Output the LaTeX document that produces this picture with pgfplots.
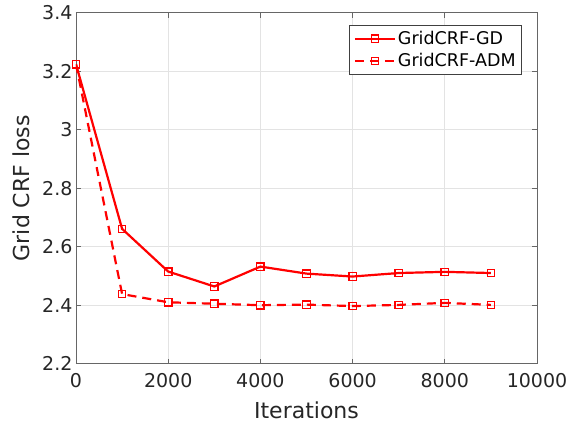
\documentclass[border=0pt]{standalone}
\usepackage{pgfplots}
\pgfplotsset{compat=1.18}
\usepackage{fontspec}
\setmainfont{DejaVu Sans}
\begin{document}
\begin{tikzpicture}
\begin{axis}[
    scale only axis,
    width=461pt,
    height=351pt,
    xmin=0, xmax=10000,
    ymin=2.2, ymax=3.4,
    xtick={0,2000,...,10000},
    ytick={2.2,2.4,...,3.4},
    scaled x ticks=false,
    xticklabel style={/pgf/number format/1000 sep={}, yshift=-6pt},
    yticklabel style={/pgf/number format/fixed},
    /pgf/number format/assume math mode=true,
    tick align=inside,
    major tick length=5pt,
    grid=major,
    grid style={gray!22, line width=0.7pt},
    axis line style={black!60, line width=0.8pt},
    tick style={black!60, line width=0.8pt},
    tick label style={font=\fontsize{19}{22}\selectfont, text=black!85},
    label style={font=\fontsize{22}{26}\selectfont, text=black!85},
    xlabel={Iterations},
    ylabel={Grid CRF loss},
    xlabel style={at={(axis description cs:0.5,0)}, anchor=base, yshift=-55pt},
    ylabel style={yshift=6pt},
    legend style={at={(0.9675,0.965)}, anchor=north east, font=\fontsize{17.5}{20}\selectfont,
        draw=black!75, line width=0.8pt, inner xsep=4pt, inner ysep=4pt, row sep=3.5pt},
    legend cell align=left,
    legend image code/.code={\draw[mark repeat=2,mark phase=2,#1] plot coordinates {(0pt,0pt) (20pt,0pt) (40pt,0pt)};},
]
\addplot[red, line width=2.2pt, mark=square, mark size=3.7pt, mark options={solid, line width=1.3pt}] coordinates {
    (0,3.224) (1000,2.661) (2000,2.515) (3000,2.464) (4000,2.532)
    (5000,2.508) (6000,2.498) (7000,2.51) (8000,2.514) (9000,2.51)
};
\addlegendentry{GridCRF-GD}
\addplot[red, line width=2.2pt, dash pattern=on 9pt off 6pt, mark=square, mark size=3.7pt, mark options={solid, line width=1.3pt}] coordinates {
    (0,3.224) (1000,2.438) (2000,2.41) (3000,2.405) (4000,2.40)
    (5000,2.402) (6000,2.397) (7000,2.401) (8000,2.408) (9000,2.401)
};
\addlegendentry{GridCRF-ADM}
\end{axis}
\path (current axis.south west) ++(-76pt,-59pt);
\path (current axis.north east) ++(39pt,12.7pt);
\end{tikzpicture}
\end{document}
